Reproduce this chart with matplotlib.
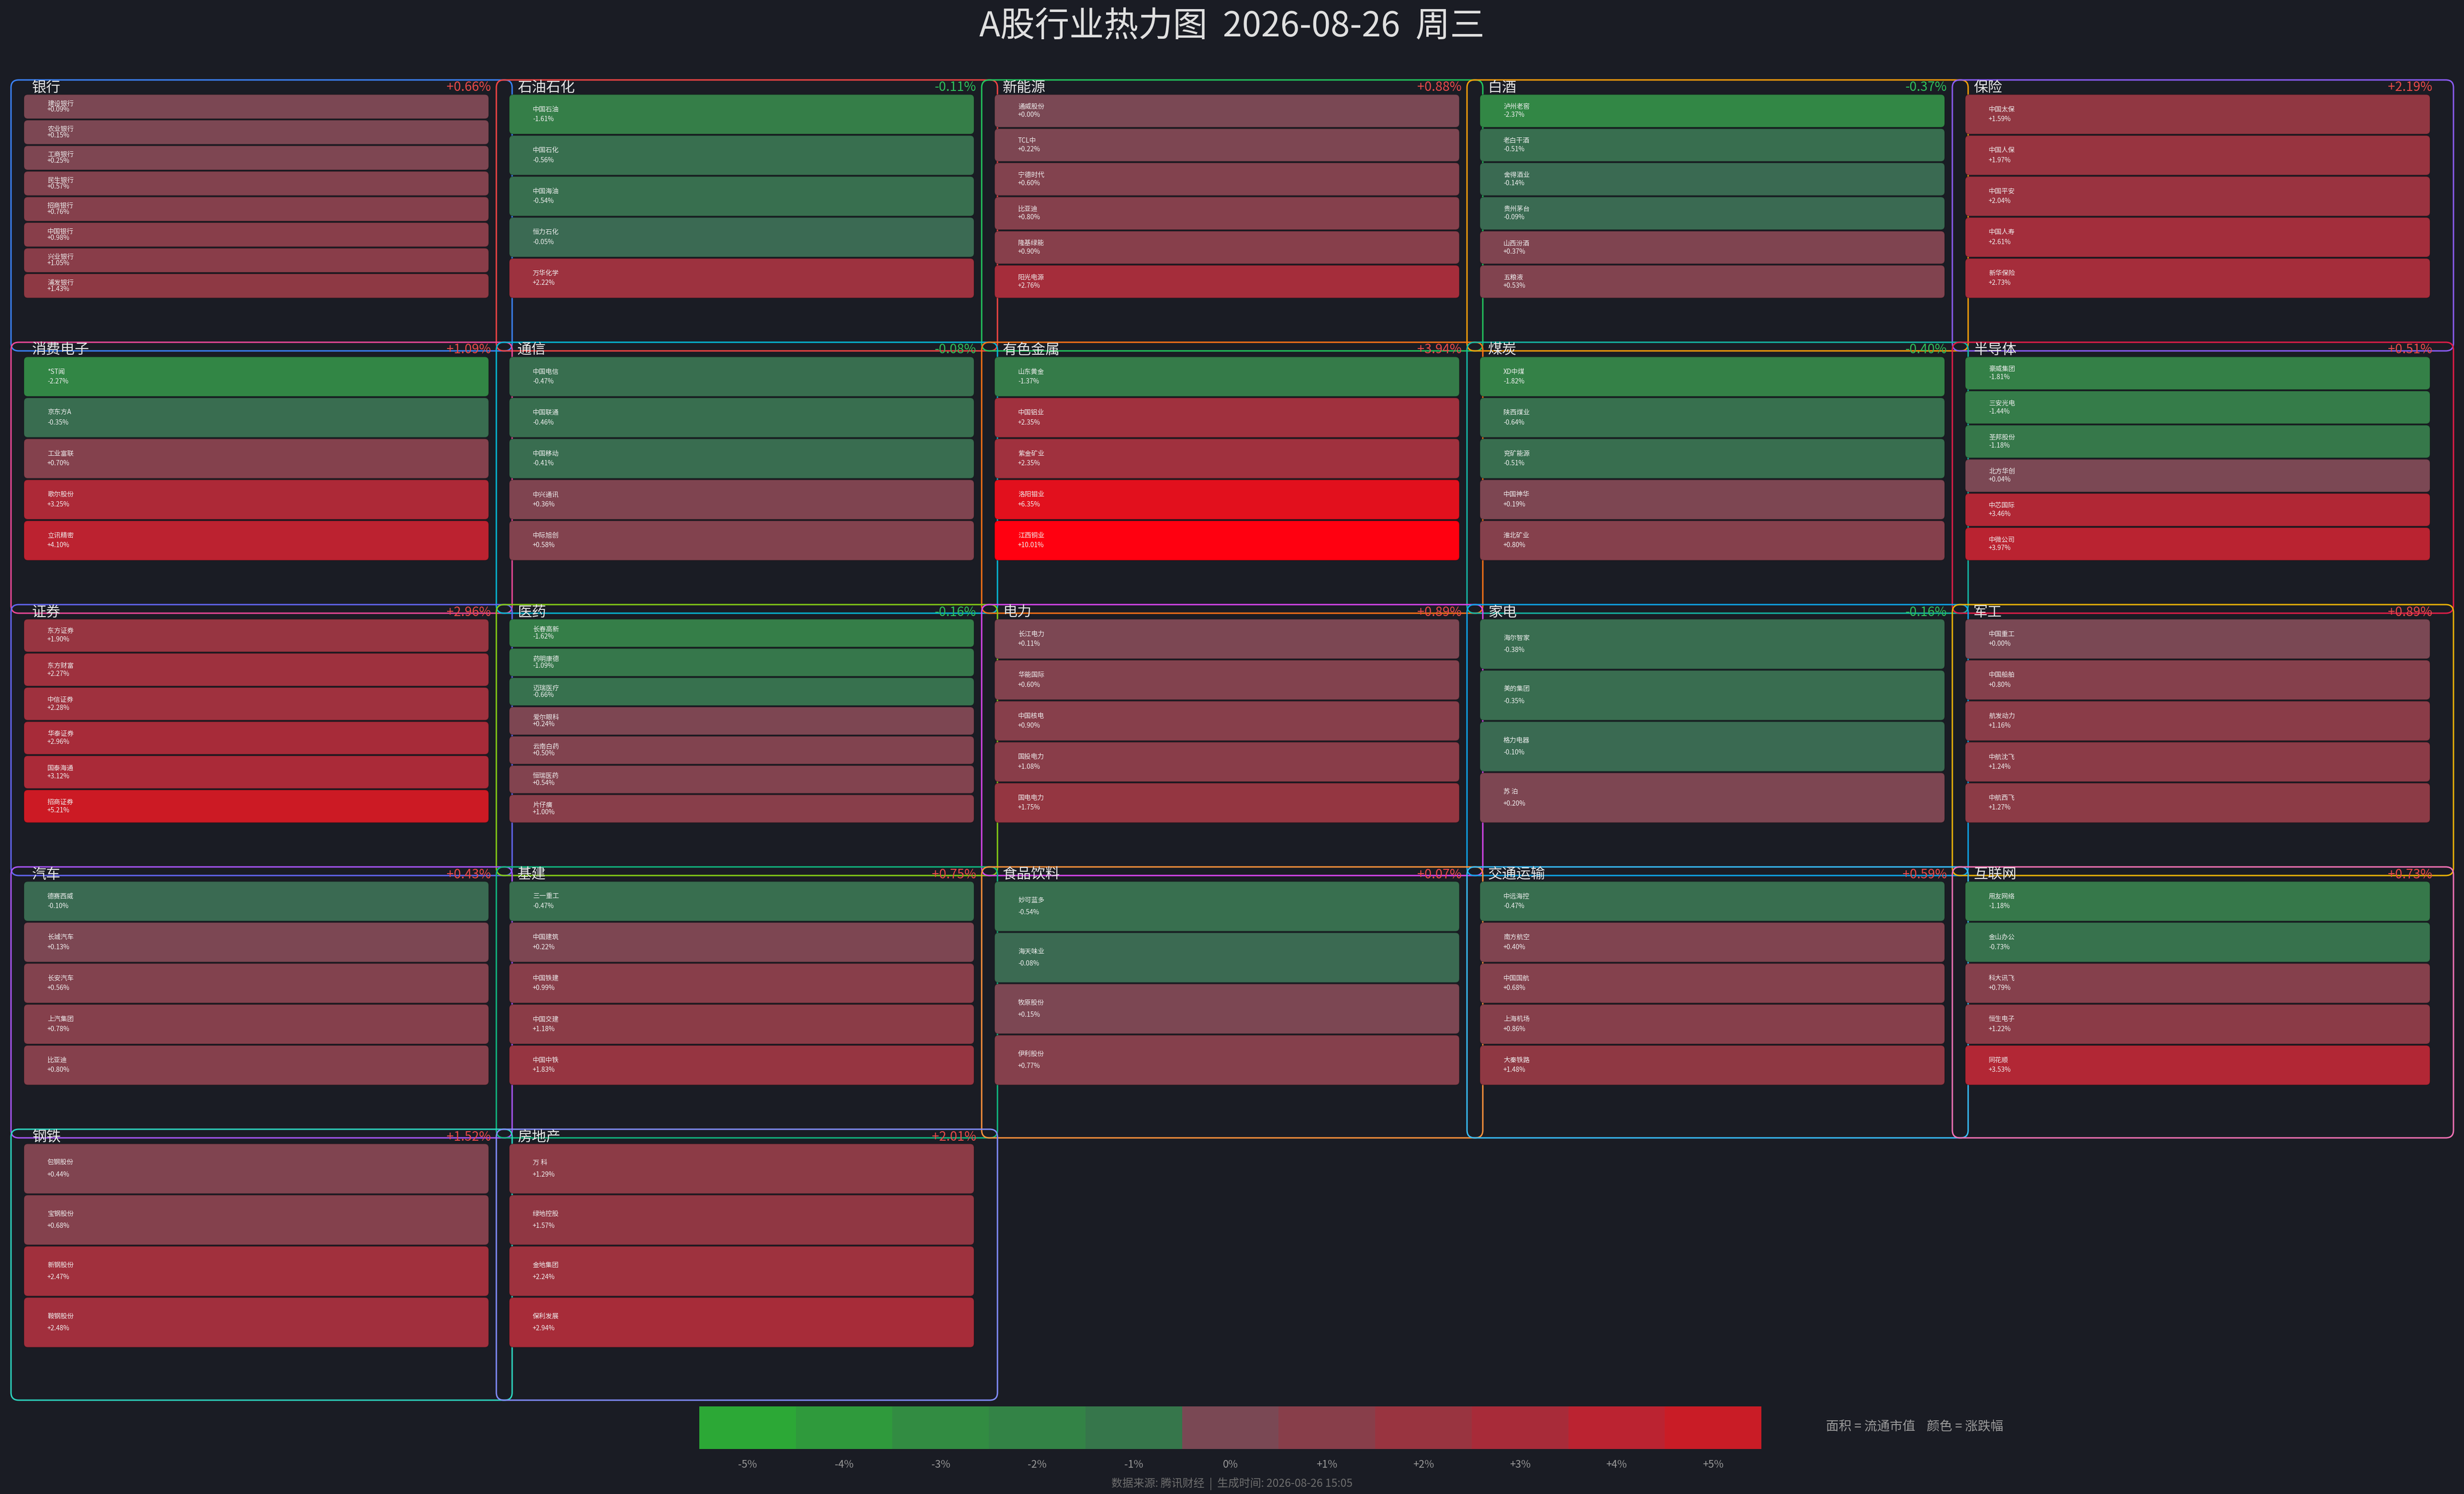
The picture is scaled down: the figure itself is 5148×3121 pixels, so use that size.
import numpy as np
import matplotlib
matplotlib.use('Agg')
import matplotlib.pyplot as plt
from matplotlib.patches import FancyBboxPatch, Rectangle
from matplotlib.colors import to_rgb

plt.rcParams['font.family'] = ['Noto Sans CJK SC', 'DejaVu Sans']

# ---- 数据 ----
sectors = ['银行', '石油石化', '新能源', '白酒', '保险',
           '消费电子', '通信', '有色金属', '煤炭', '半导体',
           '证券', '医药', '电力', '家电', '军工',
           '汽车', '基建', '食品饮料', '交通运输', '互联网',
           '钢铁', '房地产']
sector_pct = [0.66, -0.11, 0.88, -0.37, 2.19,
              1.09, -0.08, 3.94, -0.40, 0.51,
              2.96, -0.16, 0.89, -0.16, 0.89,
              0.43, 0.75, 0.07, 0.59, 0.73,
              1.52, 2.01]

stock_names = [
    ['建设银行', '农业银行', '工商银行', '民生银行', '招商银行', '中国银行', '兴业银行', '浦发银行'],
    ['中国石油', '中国石化', '中国海油', '恒力石化', '万华化学'],
    ['通威股份', 'TCL中', '宁德时代', '比亚迪', '隆基绿能', '阳光电源'],
    ['泸州老窖', '老白干酒', '舍得酒业', '贵州茅台', '山西汾酒', '五粮液'],
    ['中国太保', '中国人保', '中国平安', '中国人寿', '新华保险'],
    ['*ST闻', '京东方A', '工业富联', '歌尔股份', '立讯精密'],
    ['中国电信', '中国联通', '中国移动', '中兴通讯', '中际旭创'],
    ['山东黄金', '中国铝业', '紫金矿业', '洛阳钼业', '江西铜业'],
    ['XD中煤', '陕西煤业', '兖矿能源', '中国神华', '淮北矿业'],
    ['豪威集团', '三安光电', '圣邦股份', '北方华创', '中芯国际', '中微公司'],
    ['东方证券', '东方财富', '中信证券', '华泰证券', '国泰海通', '招商证券'],
    ['长春高新', '药明康德', '迈瑞医疗', '爱尔眼科', '云南白药', '恒瑞医药', '片仔癀'],
    ['长江电力', '华能国际', '中国核电', '国投电力', '国电电力'],
    ['海尔智家', '美的集团', '格力电器', '苏 泊'],
    ['中国重工', '中国船舶', '航发动力', '中航沈飞', '中航西飞'],
    ['德赛西威', '长城汽车', '长安汽车', '上汽集团', '比亚迪'],
    ['三一重工', '中国建筑', '中国铁建', '中国交建', '中国中铁'],
    ['妙可蓝多', '海天味业', '牧原股份', '伊利股份'],
    ['中远海控', '南方航空', '中国国航', '上海机场', '大秦铁路'],
    ['用友网络', '金山办公', '科大讯飞', '恒生电子', '同花顺'],
    ['包钢股份', '宝钢股份', '新钢股份', '鞍钢股份'],
    ['万 科', '绿地控股', '金地集团', '保利发展'],
]
stock_pct = [
    [0.09, 0.15, 0.25, 0.57, 0.76, 0.98, 1.05, 1.43],
    [-1.61, -0.56, -0.54, -0.05, 2.22],
    [0.00, 0.22, 0.60, 0.80, 0.90, 2.76],
    [-2.37, -0.51, -0.14, -0.09, 0.37, 0.53],
    [1.59, 1.97, 2.04, 2.61, 2.73],
    [-2.27, -0.35, 0.70, 3.25, 4.10],
    [-0.47, -0.46, -0.41, 0.36, 0.58],
    [-1.37, 2.35, 2.35, 6.35, 10.01],
    [-1.82, -0.64, -0.51, 0.19, 0.80],
    [-1.81, -1.44, -1.18, 0.04, 3.46, 3.97],
    [1.90, 2.27, 2.28, 2.96, 3.12, 5.21],
    [-1.62, -1.09, -0.66, 0.24, 0.50, 0.54, 1.00],
    [0.11, 0.60, 0.90, 1.08, 1.75],
    [-0.38, -0.35, -0.10, 0.20],
    [0.00, 0.80, 1.16, 1.24, 1.27],
    [-0.10, 0.13, 0.56, 0.78, 0.80],
    [-0.47, 0.22, 0.99, 1.18, 1.83],
    [-0.54, -0.08, 0.15, 0.77],
    [-0.47, 0.40, 0.68, 0.86, 1.48],
    [-1.18, -0.73, 0.79, 1.22, 3.53],
    [0.44, 0.68, 2.47, 2.48],
    [1.29, 1.57, 2.24, 2.94],
]

legend_ticks = [-5, -4, -3, -2, -1, 0, 1, 2, 3, 4, 5]

# 板块边框颜色
edge_colors = ['#3b82f6', '#ef4444', '#22c55e', '#f59e0b', '#8b5cf6',
               '#ec4899', '#06b6d4', '#f97316', '#14b8a6', '#e11d48',
               '#6366f1', '#84cc16', '#d946ef', '#0ea5e9', '#eab308',
               '#a855f7', '#10b981', '#fb923c', '#38bdf8', '#f472b6',
               '#2dd4bf', '#818cf8']

# 涨跌幅 -> 颜色
pos_anchors = [(0, '#7a4854'), (1.0, '#883e4a'), (1.5, '#8f3843'), (2.3, '#9f313e'),
               (3.0, '#a82b39'), (4.0, '#bb2331'), (5.2, '#cc1a24'), (6.4, '#e3101d'),
               (10.0, '#ff0010')]
neg_anchors = [(0, '#3b6953'), (0.5, '#386e4f'), (1.0, '#36764b'), (1.6, '#357e48'),
               (2.3, '#328645'), (3.0, '#328c42'), (4.0, '#2f9a3c'), (5.0, '#2ca836'),
               (10.0, '#1fd02a')]


def pct_color(p):
    anchors = pos_anchors if p >= 0 else neg_anchors
    xs = [a[0] for a in anchors]
    cs = np.array([to_rgb(a[1]) for a in anchors])
    v = min(abs(p), xs[-1])
    return tuple(np.interp(v, xs, cs[:, k]) for k in range(3))


bg = '#1a1c24'
W, H = 5148, 3121
fig = plt.figure(figsize=(W / 300, H / 300), dpi=300, facecolor=bg)
ax = fig.add_axes([0, 0, 1, 1])
ax.set_xlim(0, W)
ax.set_ylim(H, 0)
ax.axis('off')
ax.set_facecolor(bg)

# 网格布局 (像素坐标)
ncols = 5
pitch_x, pitch_y = 1014, 548
cell_w, area_h = 971, 428
x_start, y_start = 50, 196

for i, name in enumerate(sectors):
    r, c = divmod(i, ncols)
    cx = x_start + c * pitch_x
    cy = y_start + r * pitch_y
    bx, by = cx - 27, cy - 29

    box = FancyBboxPatch((bx, by), 1047, 566,
                         boxstyle='round,pad=0,rounding_size=16',
                         facecolor='none', edgecolor=edge_colors[i],
                         linewidth=0.7, zorder=1)
    ax.add_patch(box)

    names = stock_names[i]
    pcts = stock_pct[i]
    h = area_h / len(names)
    for j, (sn, sp) in enumerate(zip(names, pcts)):
        y0 = cy + j * h
        cell = FancyBboxPatch((cx, y0 + 1.5), cell_w, h - 3,
                              boxstyle='round,pad=0,rounding_size=8',
                              facecolor=pct_color(sp), edgecolor=(0, 0, 0, 0.25),
                              linewidth=0.4, zorder=2)
        ax.add_patch(cell)
        yc = y0 + h / 2
        off = 0.12 * h
        ax.text(cx + 49, yc - off, sn, color='#f0f0f0', fontsize=3.3,
                ha='left', va='center', zorder=3)
        ax.text(cx + 49, yc + off, f'{sp:+.2f}%', color='#f0f0f0', fontsize=3.3,
                ha='left', va='center', zorder=3)

    ax.text(bx + 44, cy - 13, name, color='#e6e6e6', fontsize=7.2,
            ha='left', va='center', zorder=4)
    sp = sector_pct[i]
    ax.text(bx + 1003, cy - 13, f'{sp:+.2f}%',
            color='#e84a4a' if sp >= 0 else '#2fbf5a', fontsize=6.5,
            ha='right', va='center', zorder=4)

# 标题
ax.text(W / 2, 56, 'A股行业热力图  2026-08-26  周三', color='#e0e0e0',
        fontsize=17.3, ha='center', va='center')

# 颜色图例
lx0, ly0, lw, lh = 1461, 2938, 2219 / len(legend_ticks), 89
for k, t in enumerate(legend_ticks):
    ax.add_patch(Rectangle((lx0 + k * lw, ly0), lw, lh, facecolor=pct_color(t),
                           edgecolor='none'))
    ax.text(lx0 + (k + 0.5) * lw, 3060, f'{t:+d}%' if t != 0 else '0%',
            color='#9a9a9a', fontsize=5.2, ha='center', va='center')

ax.text(3815, 2981, '面积 = 流通市值    颜色 = 涨跌幅', color='#9a9a9a',
        fontsize=6.4, ha='left', va='center')
ax.text(W / 2, 3100, '数据来源: 腾讯财经  |  生成时间: 2026-08-26 15:05',
        color='#6e6e6e', fontsize=5.5, ha='center', va='center')

fig.savefig('out.png', dpi=300, facecolor=bg)
